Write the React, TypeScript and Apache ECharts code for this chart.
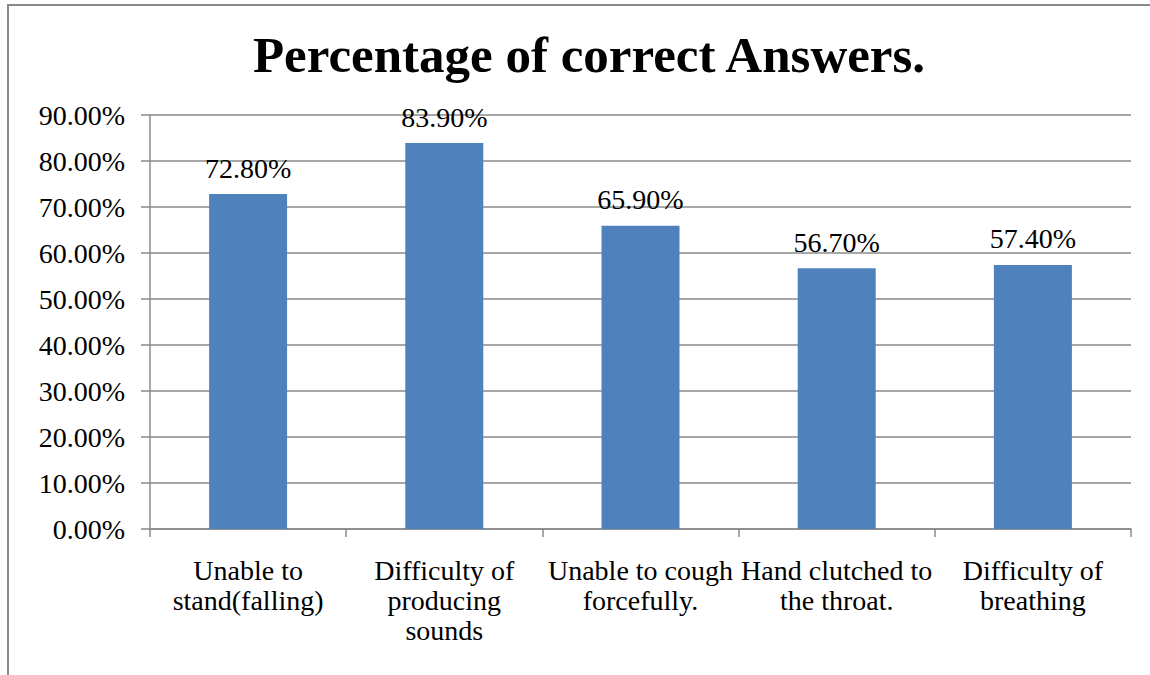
import React, { useEffect, useRef } from "react";
import * as echarts from "echarts";

const categories = [
  "Unable to\nstand(falling)",
  "Difficulty of\nproducing\nsounds",
  "Unable to cough\nforcefully.",
  "Hand clutched to\nthe throat.",
  "Difficulty of\nbreathing",
];
const values = [72.8, 83.9, 65.9, 56.7, 57.4];
const titleText = "Percentage of correct Answers.";

const FONT = "'Liberation Serif', 'Times New Roman', serif";
const GRAY = "#8a8a8a";
const FS = 28;

export default function App() {
  const ref = useRef<HTMLDivElement>(null);
  useEffect(() => {
    if (!ref.current) return;
    const chart = echarts.init(ref.current, null, { renderer: "svg" });
    chart.setOption({
      animation: false,
      backgroundColor: "#ffffff",
      title: {
        text: titleText,
        left: 584,
        textAlign: "center",
        top: 24,
        textStyle: {
          fontFamily: FONT,
          fontWeight: "bold",
          fontSize: 51,
          lineHeight: 51,
          color: "#000",
        },
      },
      graphic: [
        {
          type: "rect",
          shape: { x: 8, y: 5, width: 1300, height: 800 },
          style: { fill: "none", stroke: GRAY, lineWidth: 2 },
          silent: true,
        },
      ],
      grid: { left: 150, right: 19, top: 115, bottom: 146, containLabel: false },
      xAxis: {
        type: "category",
        data: categories,
        axisLine: { show: true, lineStyle: { color: GRAY, width: 1.5 } },
        axisTick: { show: true, length: 8, alignWithLabel: false, lineStyle: { color: GRAY, width: 1.5 } },
        axisLabel: {
          interval: 0,
          margin: 26,
          fontFamily: FONT,
          fontSize: FS,
          lineHeight: 30,
          color: "#000",
        },
      },
      yAxis: {
        type: "value",
        min: 0,
        max: 90,
        interval: 10,
        axisLine: { show: true, lineStyle: { color: GRAY, width: 1.5 } },
        axisTick: { show: true, length: 9, lineStyle: { color: GRAY, width: 1.5 } },
        splitLine: { show: true, lineStyle: { color: GRAY, width: 1.5 } },
        axisLabel: {
          margin: 25,
          fontFamily: FONT,
          fontSize: FS,
          color: "#000",
          formatter: (v: number) => v.toFixed(2) + "%",
        },
      },
      series: [
        {
          type: "bar",
          data: values,
          barWidth: 78,
          itemStyle: { color: "#4F81BD" },
          label: {
            show: true,
            position: "top",
            distance: 12,
            fontFamily: FONT,
            fontSize: FS,
            lineHeight: 28,
            color: "#000",
            formatter: (p: any) => Number(p.value).toFixed(2) + "%",
          },
        },
      ],
    });
    return () => chart.dispose();
  }, []);
  return (
    <div
      ref={ref}
      style={{ position: "absolute", left: 0, top: 0, width: 1150, height: 675 }}
    />
  );
}
